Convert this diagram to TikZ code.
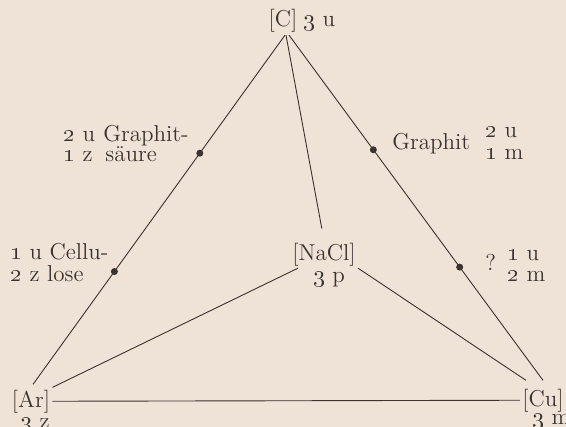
\documentclass[tikz,border=0pt]{standalone}
\usepackage{xcolor}
\definecolor{paper}{RGB}{239,227,215}
\definecolor{ink}{RGB}{60,50,46}
\newcommand\osn[1]{\oldstylenums{#1}}
\begin{document}
\begin{tikzpicture}[x=0.5pt,y=-0.5pt,
  every node/.style={font=\fontsize{11.5pt}{13pt}\selectfont, text=ink, inner sep=0pt},
  elem/.style={anchor=base, inner sep=1pt},
  lbl/.style={anchor=base west},
  conn/.style={draw=ink, line width=0.45pt},
  dotmark/.style={circle, fill=ink, minimum size=3.5pt, inner sep=0pt}]
\fill[paper] (0,0) rectangle (566,427);
\useasboundingbox (0,0) rectangle (566,427);
% element nodes
\node[elem] (C) at (283,27) {[C]};
\node[lbl] (Cv) at (303,27) {\osn{3} u};
\node[elem] (Ar) at (31,407) {[Ar]};
\node[lbl] (Arv) at (20,428) {\osn{3} z};
\node[elem] (Cu) at (543,406) {[Cu]};
\node[lbl] (Cuv) at (532,424) {\osn{3} m};
\node[elem] (NaCl) at (324,260) {[NaCl]};
\node[anchor=base] (NaClv) at (329,282) {\osn{3} p};
% connectors
\draw[conn] ([xshift=1pt]C.south) -- ([xshift=1pt,yshift=1.5pt]Ar.north)
  node[pos=0.338, dotmark] (d1) {} node[pos=0.677, dotmark] (d2) {};
\draw[conn] ([xshift=3pt]C.south) -- ([yshift=3pt]Cu.north)
  node[pos=0.332, dotmark] (d3) {} node[pos=0.672, dotmark] (d4) {};
\draw[conn, shorten >=6pt] ([xshift=1.5pt]C.south) -- (NaCl.north);
\draw[conn] (Ar.north east) -- ([xshift=4pt]NaCl.south west);
\draw[conn] (NaCl.south east) -- ([xshift=3pt,yshift=3pt]Cu.north west);
\draw[conn] (Ar.east) -- (Cu.west);
% labels
\node[lbl] (gs1a) at (63,142) {\osn{2} u};
\node[lbl] (gs1b) at (103,142) {Graphit-};
\node[lbl] (gs2a) at (63,162) {\osn{1} z};
\node[lbl] (gs2b) at (105,162) {säure};
\node[lbl] (gr) at (392,150) {Graphit};
\node[lbl] (gr1) at (485,138) {\osn{2} u};
\node[lbl] (gr2) at (485,160) {\osn{1} m};
\node[lbl] (ce1) at (10,259) {\osn{1} u Cellu-};
\node[lbl] (ce2) at (10,281) {\osn{2} z lose};
\node[lbl] (q) at (485,270) {?};
\node[lbl] (q1) at (507,260) {\osn{1} u};
\node[lbl] (q2) at (507,281) {\osn{2} m};
\end{tikzpicture}
\end{document}
